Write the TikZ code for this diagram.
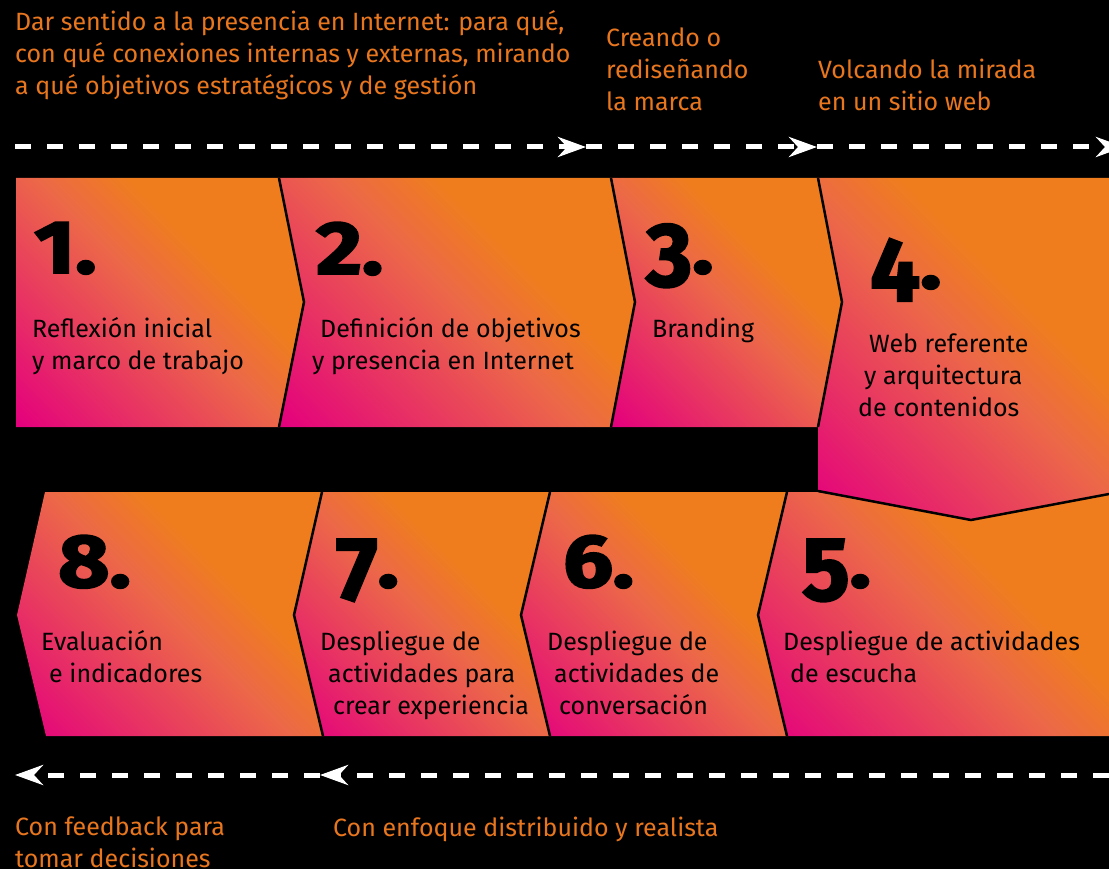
\documentclass[tikz,border=0pt]{standalone}
\usepackage{fontspec}
\setmainfont{Fira Sans}
\newfontfamily\numfont{Fira Sans}[BoldFeatures={FakeBold=2.5}]
\usepackage{graphicx}
\usepackage{tikz}
\usetikzlibrary{arrows.meta}
\definecolor{orng}{HTML}{EF7D1E}
\definecolor{magn}{HTML}{E4007D}
\definecolor{salm}{HTML}{EC6848}
\definecolor{notec}{HTML}{E8761E}
\pgfdeclarehorizontalshading{chevron}{100bp}{color(0bp)=(magn); color(15bp)=(magn); color(50bp)=(salm); color(62bp)=(orng); color(100bp)=(orng)}
\newcommand{\stepno}[1]{\scalebox{1.18}[1]{#1}}
\newcommand{\lowdigit}[1]{\raisebox{-13pt}{\scalebox{1}[1.2]{#1}}}
\tikzset{
    chev/.style = {shading=chevron, shading angle=45},
    seam/.style = {draw=black, line width=2.5pt, line join=miter},
    steptext/.style = {anchor=base west, align=left, inner sep=0pt, font=\fontsize{25}{32}\selectfont, text=black},
    stepnum/.style = {anchor=base west, inner sep=0pt, font=\fontsize{75}{75}\selectfont\numfont\bfseries, text=black},
    note/.style = {anchor=base west, align=left, inner sep=0pt, font=\fontsize{25}{32}\selectfont, text=notec},
    flow/.style = {draw=white, line width=5pt, dash pattern=on 16pt off 16pt, -{Stealth[length=28pt, width=20pt, inset=9pt]}},
}

\begin{document}
\begin{tikzpicture}[x=1pt, y=-1pt]
\fill[black] (0,0) rectangle (1109,869);
\useasboundingbox (0,0) rectangle (1109,869);

% first row, left to right
\shade[chev] (16,178) -- (279,178) -- (304,302) -- (279,427) -- (16,427) -- cycle;
\shade[chev] (279,178) -- (611,178) -- (635,302) -- (611,427) -- (279,427) -- (304,302) -- cycle;
\shade[chev] (611,178) -- (818,178) -- (842,302) -- (818,427) -- (611,427) -- (635,302) -- cycle;
\shade[chev] (818,178) -- (1109,178) -- (1109,494) -- (971,520) -- (818,491) -- (818,427) -- (842,302) -- cycle;

% second row, right to left
\shade[chev] (787,492) -- (818,492) -- (971,520) -- (1109,494) -- (1109,736) -- (787,736) -- (758,615) -- cycle;
\shade[chev] (550,492) -- (787,492) -- (758,615) -- (787,736) -- (550,736) -- (521,615) -- cycle;
\shade[chev] (322,492) -- (550,492) -- (521,615) -- (550,736) -- (323,736) -- (294,615) -- cycle;
\shade[chev] (45,492) -- (322,492) -- (294,615) -- (323,736) -- (46,736) -- (17,615) -- cycle;

% seams between steps
\draw[seam] (279,178) -- (304,302) -- (279,427);
\draw[seam] (611,178) -- (635,302) -- (611,427);
\draw[seam] (818,178) -- (842,302) -- (818,427);
\draw[seam] (818,491) -- (971,520) -- (1109,494);
\draw[seam] (787,492) -- (758,615) -- (787,736);
\draw[seam] (550,492) -- (521,615) -- (550,736);
\draw[seam] (322,492) -- (294,615) -- (323,736);

% step numbers
\node[stepnum] (n1) at (34,273) {\stepno{1.}};
\node[stepnum] (n2) at (316,274) {\stepno{2.}};
\node[stepnum] (n3) at (646,273) {\stepno{\lowdigit{3}.}};
\node[stepnum] (n4) at (870,288) {\stepno{\lowdigit{4}.}};
\node[stepnum] (n5) at (802,587) {\stepno{\lowdigit{5}.}};
\node[stepnum] (n6) at (563,587) {\stepno{6.}};
\node[stepnum] (n7) at (336,587) {\stepno{\lowdigit{7}.}};
\node[stepnum] (n8) at (58,587) {\stepno{8.}};

% step labels
\node[steptext] (t1) at (32,369) {Reflexión inicial\\y marco de trabajo};
\node[steptext] (t2) at (312,369) {\hspace*{8pt}Definición de objetivos\\y presencia en Internet};
\node[steptext] (t3) at (652,337) {Branding};
\node[steptext] (t4) at (858,416) {\hspace*{11pt}Web referente\\\hspace*{6pt}y arquitectura\\de contenidos};
\node[steptext] (t5) at (783,682) {Despliegue de actividades\\\hspace*{7pt}de escucha};
\node[steptext] (t6) at (547,714) {Despliegue de\\\hspace*{7pt}actividades de\\\hspace*{12pt}conversación};
\node[steptext] (t7) at (320,714) {Despliegue de\\\hspace*{8pt}actividades para\\\hspace*{13pt}crear experiencia};
\node[steptext] (t8) at (41,682) {Evaluación\\\hspace*{8pt}e indicadores};

% notes above and below
\node[note] (top1) at (15,95) {Dar sentido a la presencia en Internet: para qué,\\con qué conexiones internas y externas, mirando\\a qué objetivos estratégicos y de gestión};
\node[note] (top2) at (606,111) {Creando o\\rediseñando\\la marca};
\node[note] (top3) at (818,111) {Volcando la mirada\\en un sitio web};
\node[note] (bot1) at (15,867) {Con feedback para\\tomar decisiones};
\node[note] (bot2) at (333,836) {Con enfoque distribuido y realista};

% flow arrows
\coordinate (ta0) at (15,147);
\coordinate (ta1) at (586,147);
\coordinate (ta2) at (817,147);
\coordinate (ta3) at (1124,147);
\draw[flow] (ta0) -- (ta1);
\draw[flow] (ta1) -- (ta2);
\draw[flow] (ta2) -- (ta3);

\coordinate (ba0) at (1109,775);
\coordinate (ba1) at (320,775);
\coordinate (ba2) at (15,775);
\draw[flow] (ba0) -- (ba1);
\draw[flow] (ba1) -- (ba2);
\end{tikzpicture}
\end{document}
